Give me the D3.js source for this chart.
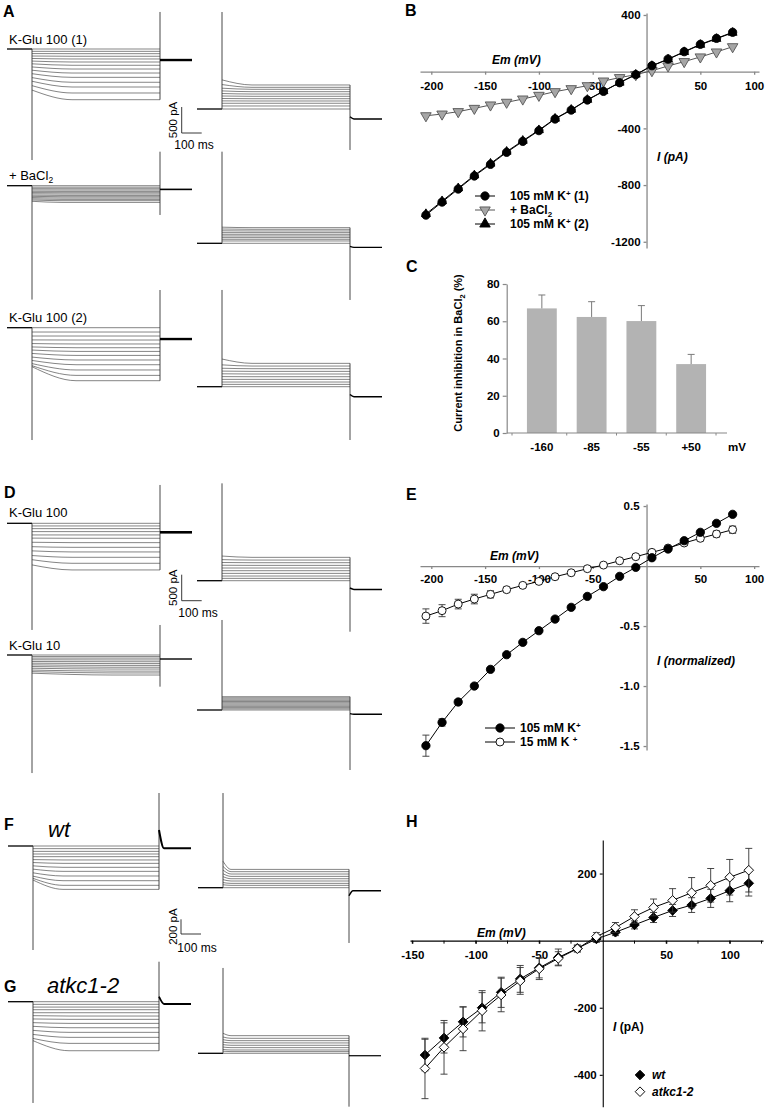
<!DOCTYPE html>
<html><head><meta charset="utf-8">
<script src="https://cdn.jsdelivr.net/npm/d3@7"></script>
<style>
body{margin:0;background:#fff;}
svg{display:block;font-family:"Liberation Sans",Arial,sans-serif;}
</style></head><body>
<svg id="fig" width="767" height="1110"></svg>
<script>
// ---------------- DATA ----------------
// Panel B: I-V (pA) vs Em (mV)
const emB = [-205,-190,-175,-160,-145,-130,-115,-100,-85,-70,-55,-40,-25,-10,5,20,35,50,65,80];
const iK1 = [-1012,-920,-828,-736,-654,-569,-492,-416,-334,-271,-200,-139,-78,-21,42,89,141,193,235,278];
const iBa = [-311,-299,-282,-259,-235,-216,-193,-167,-141,-120,-99,-66,-42,-21,7,40,71,104,139,176];
const iK2 = [-1004,-913,-822,-731,-648,-564,-487,-412,-331,-268,-198,-137,-77,-20,41,87,139,190,232,275];
const bXTicks = [-200,-150,-100,-50,50,100];
const bYTicks = [400,-400,-800,-1200];

// Panel C: inhibition (%)
const inhCats = ["-160","-85","-55","+50"];
const inhMean = [66.9,62.3,60.1,37.0];
const inhSem = [7.2,8.2,8.3,5.2];
const cYTicks = [0,20,40,60,80];

// Panel E: normalized I-V
const emE = [-205,-190,-175,-160,-145,-130,-115,-100,-85,-70,-55,-40,-25,-10,5,20,35,50,65,80];
const iE105 = [-1.497,-1.303,-1.133,-1.0,-0.861,-0.739,-0.636,-0.539,-0.442,-0.344,-0.253,-0.172,-0.086,-0.011,0.069,0.142,0.211,0.281,0.356,0.431];
const eE105 = [0.088,0.03,0.02,0.015,0.01,0.01,0.01,0.01,0.01,0.01,0.01,0.01,0.01,0.01,0.01,0.01,0.01,0.01,0.01,0.01];
const iE15 = [-0.417,-0.372,-0.317,-0.275,-0.236,-0.197,-0.161,-0.128,-0.089,-0.056,-0.022,0.008,0.044,0.078,0.114,0.150,0.192,0.231,0.267,0.303];
const eE15 = [0.06,0.05,0.04,0.04,0.03,0.02,0.015,0.01,0.01,0.01,0.01,0.01,0.01,0.01,0.01,0.01,0.015,0.02,0.025,0.03];
const eXTicks = [-200,-150,-100,-50,50,100];
const eYTicks = [0.5,-0.5,-1.0,-1.5];

// Panel H: wt vs atkc1-2
const emH = [-140,-125,-110,-95,-80,-65,-50,-35,-20,-5,10,25,40,55,70,85,100,115];
const iWt = [-341,-290,-242,-200,-154,-114,-81,-50,-23,5,25,47,69,90,106,126,149,171];
const eWt = [47,45,45,45,45,40,30,25,10,10,10,12,15,18,22,27,33,38];
const iKo = [-381,-318,-263,-209,-162,-120,-84,-53,-24,12,39,72,99,120,143,165,189,210];
const eKo = [90,80,65,60,50,40,32,20,10,12,15,20,25,35,45,50,53,65];
const hXTicks = [-150,-100,-50,50,100];
const hYTicks = [200,-200,-400];

// Current traces (pA): steady-state and initial levels per family
const a1L_ss = [0,-45,-90,-140,-192,-250,-313,-385,-462,-545,-640,-731,-846,-975];
const a1L_in = [0,-45,-88,-135,-182,-232,-285,-345,-408,-475,-550,-620,-705,-790];
const a1R_ss = [0,58,110,154,198,244,288,333,379,417,462];
const a1R_in = [0,58,110,156,202,250,298,348,400,470,560];
const a2L_ss = [0,-29,-58,-83,-110,-135,-160,-187,-212,-237,-263,-288,-321];
const a2L_in = [0,-29,-57,-82,-108,-132,-156,-182,-205,-228,-252,-275,-300];
const a2R_ss = [0,45,77,109,141,173,205,237,269,301];
const a2R_in = [0,45,77,109,141,173,205,240,275,310];
const a3L_ss = [0,-83,-160,-237,-313,-385,-456,-533,-621,-712,-813,-917,-1019];
const a3L_in = [0,-83,-160,-235,-305,-370,-430,-495,-565,-630,-690,-730,-750];
const a3R_ss = [0,45,90,141,192,244,295,346,397,449];
const a3R_in = [0,45,90,141,194,248,300,355,420,532];
const d1L_ss = [0,-51,-103,-160,-224,-288,-372,-462,-551,-654,-769,-897];
const d1L_in = [0,-51,-103,-160,-224,-285,-365,-450,-530,-620,-700,-800];
const d1R_ss = [0,45,90,141,192,244,295,346,397,449];
const d1R_in = [0,45,90,141,192,244,297,350,405,474];
const d2L_ss = [0,-30,-60,-95,-130,-165,-200,-235,-270,-310,-345,-385];
const d2L_in = [0,-30,-60,-92,-125,-158,-190,-222,-255,-290,-320,-350];
const d2R_ss = [0,23,46,70,93,116,140,163,186,210,233,256];
const d2R_in = [0,23,46,70,93,116,140,163,186,210,233,256];
const fL_ss = [0,-36,-73,-109,-145,-190,-236,-290,-345,-408,-472,-535,-590];
const fL_in = [0,-36,-73,-109,-145,-185,-225,-270,-315,-365,-410,-440,-463];
const fR_ss = [0,32,59,91,122,154,186,218,249];
const fR_in = [0,40,70,110,150,190,240,290,360];
const gL_ss = [0,-36,-73,-109,-150,-195,-240,-295,-354,-417,-485,-567,-667];
const gL_in = [0,-36,-73,-109,-150,-190,-235,-285,-335,-390,-445,-500,-530];
const gR_ss = [0,23,45,77,109,141,172,204,240];
const gR_in = [0,28,52,85,118,152,185,222,272];

// ---------------- DRAWING ----------------
const svg = d3.select('#fig');
const FONT = '"Liberation Sans", Arial, sans-serif';

function family(o){
  const g = svg.append('g');
  const t = d3.scaleLinear().domain([-125, o.end + 160]).range([o.x0, o.x0 + 0.2*(o.end + 285)]);
  const y = d3.scaleLinear().domain([0, 1000]).range([o.y0, o.y0 - 1000*o.k]);
  const line = d3.line().x(d=>t(d[0])).y(d=>y(d[1])).curve(d3.curveMonotoneX);
  o.ss.forEach((s,i)=>{
    g.append('path').attr('d', line([[0,o.init[i]],[o.relax,s],[o.end,s]]))
      .attr('fill','none').attr('stroke','#333').attr('stroke-width',0.6);
  });
  g.append('path').attr('d', line([[-125,0],[0,0]])).attr('stroke','#000').attr('stroke-width',1.3).attr('fill','none');
  g.append('line').attr('x1',t(0)).attr('x2',t(0)).attr('y1',y(0)).attr('y2',y(o.on))
    .attr('stroke','#333').attr('stroke-width',0.9);
  g.append('line').attr('x1',t(o.end)).attr('x2',t(o.end)).attr('y1',y(o.offTop)).attr('y2',y(o.offBot))
    .attr('stroke','#333').attr('stroke-width',0.9);
  g.append('path').attr('d', line([[o.end,o.tail0],[o.end+o.tailRelax,o.tail],[o.end+160,o.tail]]))
    .attr('fill','none').attr('stroke','#000').attr('stroke-width',o.tw);
  return {t,y,g};
}

const fams = [
  {x0:7,  y0:49,    k:0.052, end:640, ss:a1L_ss, init:a1L_in, relax:200, on:-2135, offTop:712, offBot:-975, tail0:-212, tail:-212, tailRelax:10, tw:2.4},
  {x0:197,y0:109,   k:0.052, end:640, ss:a1R_ss, init:a1R_in, relax:150, on:1865, offTop:462, offBot:-788, tail0:-150, tail:-192, tailRelax:20, tw:1.4},
  {x0:7,  y0:185.7, k:0.052, end:640, ss:a2L_ss, init:a2L_in, relax:150, on:-2190, offTop:654, offBot:-563, tail0:-71, tail:-71, tailRelax:10, tw:1.6},
  {x0:197,y0:243.3, k:0.052, end:640, ss:a2R_ss, init:a2R_in, relax:150, on:1762, offTop:301, offBot:-1090, tail0:-60, tail:-77, tailRelax:20, tw:1.2},
  {x0:7,  y0:327.7, k:0.052, end:640, ss:a3L_ss, init:a3L_in, relax:220, on:-2160, offTop:725, offBot:-1019, tail0:-218, tail:-218, tailRelax:10, tw:2.4},
  {x0:197,y0:386.7, k:0.052, end:640, ss:a3R_ss, init:a3R_in, relax:150, on:1860, offTop:449, offBot:-1025, tail0:-150, tail:-192, tailRelax:20, tw:1.5},
  {x0:7,  y0:523.3, k:0.052, end:640, ss:d1L_ss, init:d1L_in, relax:200, on:-2051, offTop:737, offBot:-897, tail0:-173, tail:-173, tailRelax:10, tw:2.6},
  {x0:197,y0:580.7, k:0.052, end:640, ss:d1R_ss, init:d1R_in, relax:150, on:1872, offTop:449, offBot:-981, tail0:-140, tail:-167, tailRelax:20, tw:1.5},
  {x0:7,  y0:655,   k:0.052, end:640, ss:d2L_ss, init:d2L_in, relax:400, on:-2270, offTop:577, offBot:-609, tail0:-77, tail:-77, tailRelax:10, tw:1.4},
  {x0:197,y0:710,   k:0.052, end:640, ss:d2R_ss, init:d2R_in, relax:150, on:1731, offTop:256, offBot:-1154, tail0:-70, tail:-83, tailRelax:20, tw:1.4},
  {x0:8,  y0:846,   k:0.0735,end:630, ss:fL_ss,  init:fL_in,  relax:150, on:-1415, offTop:721, offBot:-590, tail0:218, tail:-31, tailRelax:25, tw:2.0},
  {x0:198,y0:887.7, k:0.0735,end:630, ss:fR_ss,  init:fR_in,  relax:40,  on:1288, offTop:249, offBot:-752, tail0:-110, tail:-41, tailRelax:20, tw:1.4},
  {x0:8,  y0:1001.7,k:0.0735,end:630, ss:gL_ss,  init:gL_in,  relax:180, on:-1378, offTop:544, offBot:-667, tail0:68, tail:-31, tailRelax:25, tw:1.8},
  {x0:198,y0:1053.3,k:0.0735,end:630, ss:gR_ss,  init:gR_in,  relax:40,  on:1161, offTop:240, offBot:-726, tail0:-33, tail:-33, tailRelax:20, tw:1.2}
];
const famScales = fams.map(family);

function scaleBar(fs, x, yb, pA, lab1, lab2, lx2, ly2){
  const h = fs.y(0) - fs.y(pA);
  const w = fs.t(100) - fs.t(0);
  svg.append('path').attr('d',`M${x},${yb-h}V${yb}H${x+w}`).attr('fill','none').attr('stroke','#222').attr('stroke-width',0.9);
  svg.append('text').attr('transform',`translate(${x-4.5},${yb-h/2}) rotate(-90)`).attr('text-anchor','middle')
    .attr('font-size',11.5).text(lab1);
  svg.append('text').attr('x',lx2).attr('y',ly2).attr('text-anchor','middle').attr('font-size',12).text(lab2);
}
scaleBar(famScales[0], 181.7, 133, 500, '500 pA', '100 ms', 194, 149);
scaleBar(famScales[6], 181.7, 600.7, 500, '500 pA', '100 ms', 198, 617);
scaleBar(famScales[10], 181, 934, 200, '200 pA', '100 ms', 197, 951.5);

[["K-Glu 100 (1)",9,44],["K-Glu 100 (2)",9,322],["K-Glu 100",9,517],["K-Glu 10",9,650]].forEach(d=>{
  svg.append('text').attr('x',d[1]).attr('y',d[2]).attr('font-size',13).text(d[0]);
});
{
  const tb = svg.append('text').attr('x',9).attr('y',180).attr('font-size',13);
  tb.append('tspan').text('+ BaCl');
  tb.append('tspan').attr('font-size',8.5).attr('dy',3).text('2');
}
svg.append('text').attr('x',48).attr('y',836.5).attr('font-size',22).attr('font-style','italic').text('wt');
svg.append('text').attr('x',47).attr('y',993).attr('font-size',22).attr('font-style','italic').text('atkc1-2');

[["A",3,17],["B",405,16],["C",406,272],["D",4,498],["E",406,500],["F",4,830],["G",4,992],["H",406,827]].forEach(d=>{
  svg.append('text').attr('x',d[1]).attr('y',d[2]).attr('font-size',16).attr('font-weight','bold').text(d[0]);
});

function crossAxes(x, y, xt, yt, fmt, opts){
  const g = svg.append('g');
  const ax = g.append('g').attr('transform',`translate(0,${y(0)})`)
    .call(d3.axisBottom(x).tickValues(xt).tickSize(3).tickSizeOuter(0).tickPadding(opts.xPad).tickFormat(d=>String(d)));
  const ay = g.append('g').attr('transform',`translate(${x(0)},0)`)
    .call(d3.axisLeft(y).tickValues(yt).tickSize(3).tickSizeOuter(0).tickPadding(opts.yPad).tickFormat(fmt));
  [ax,ay].forEach(a=>{
    a.attr('font-family',FONT).attr('font-size',11.5).attr('font-weight','bold');
    a.selectAll('path').attr('stroke',opts.col).attr('stroke-width',opts.w);
    a.selectAll('line').attr('stroke',opts.col).attr('stroke-width',opts.w);
    a.selectAll('text').attr('fill','#000');
  });
  return g;
}
function plotSeries(x, y, xs, ys, o){
  const g = svg.append('g');
  const line = d3.line().x((d,i)=>x(xs[i])).y(d=>y(d));
  g.append('path').attr('d',line(ys)).attr('fill','none').attr('stroke',o.lc).attr('stroke-width',1);
  if (o.err){
    ys.forEach((v,i)=>{
      const e = o.err[i]; const cx = x(xs[i]);
      g.append('path').attr('d',`M${cx},${y(v-e)}V${y(v+e)}M${cx-3.5},${y(v-e)}H${cx+3.5}M${cx-3.5},${y(v+e)}H${cx+3.5}`)
        .attr('stroke','#333').attr('stroke-width',0.9).attr('fill','none');
    });
  }
  const p = d3.symbol().type(o.type).size(o.size)();
  ys.forEach((v,i)=>{
    g.append('path').attr('d',p).attr('transform',`translate(${x(xs[i])},${y(v)}) rotate(${o.rot||0})`)
      .attr('fill',o.fill).attr('stroke',o.stroke).attr('stroke-width',0.9);
  });
  return g;
}
function legendItem(x, y, half, o, textParts, tx, italic, lsize){
  if (half>0) svg.append('line').attr('x1',x-half).attr('x2',x+half).attr('y1',y).attr('y2',y).attr('stroke',o.lc).attr('stroke-width',1);
  svg.append('path').attr('d',d3.symbol().type(o.type).size(lsize||o.size)()).attr('transform',`translate(${x},${y}) rotate(${o.rot||0})`)
    .attr('fill',o.fill).attr('stroke',o.stroke).attr('stroke-width',0.9);
  const t = svg.append('text').attr('x',tx).attr('y',y+4).attr('font-size',12).attr('font-weight','bold');
  if (italic) t.attr('font-style','italic');
  textParts.forEach(p=>{
    const s = t.append('tspan').text(p[0]);
    if (p[1]) s.attr('font-size',p[1]);
    if (p[2]) s.attr('dy',p[2]);
  });
}
function axisTitle(x, y, parts){
  const t = svg.append('text').attr('x',x).attr('y',y).attr('font-size',12).attr('font-weight','bold');
  parts.forEach(p=>{ const s=t.append('tspan').text(p[0]); if(p[1]) s.attr('font-style','italic'); });
}

// ---- Panel B ----
const xB = d3.scaleLinear().domain([-210.5,104.5]).range([420,759]);
const yB = d3.scaleLinear().domain([414,-1244]).range([13,248]);
crossAxes(xB, yB, bXTicks, bYTicks, d=>String(d), {xPad:7, yPad:3, col:'#888', w:1.3});
const stK1 = {type:d3.symbolCircle, size:54, fill:'#000', stroke:'#000', lc:'#000'};
const stBa = {type:d3.symbolTriangle, size:48, fill:'#a6a6a6', stroke:'#555', lc:'#555', rot:180};
const stK2 = {type:d3.symbolTriangle, size:34, fill:'#000', stroke:'#000', lc:'#000'};
plotSeries(xB, yB, emB, iK2, stK2);
plotSeries(xB, yB, emB, iBa, stBa);
plotSeries(xB, yB, emB, iK1, stK1);
axisTitle(492, 64, [["Em (mV)",true]]);
axisTitle(657, 161, [["I (pA)",true]]);
legendItem(485, 196, 10, stK1, [["105 mM K"],["+",8,-4],[" (1)",null,4]], 510);
legendItem(485, 210, 10, stBa, [["+ BaCl"],["2",8,3],["",null,-3]], 510);
legendItem(485, 224, 10, stK2, [["105 mM K"],["+",8,-4],[" (2)",null,4]], 510, false, 48);

// ---- Panel C ----
const yC = d3.scaleLinear().domain([0,80]).range([433,284]);
const xC = d3.scaleBand().domain(inhCats).range([512,721]).paddingInner(0.4).paddingOuter(0.3);
{
  const g = svg.append('g');
  g.selectAll('rect').data(inhCats).enter().append('rect')
    .attr('x',d=>xC(d)).attr('width',xC.bandwidth())
    .attr('y',(d,i)=>yC(inhMean[i])).attr('height',(d,i)=>yC(0)-yC(inhMean[i]))
    .attr('fill','#b3b3b3');
  inhCats.forEach((d,i)=>{
    const cx = xC(d)+xC.bandwidth()/2;
    g.append('path').attr('d',`M${cx},${yC(inhMean[i])}V${yC(inhMean[i]+inhSem[i])}M${cx-3.5},${yC(inhMean[i]+inhSem[i])}H${cx+3.5}`)
      .attr('stroke','#7a7a7a').attr('stroke-width',1).attr('fill','none');
  });
  const ay = g.append('g').attr('transform','translate(506.7,0)')
    .call(d3.axisLeft(yC).tickValues(cYTicks).tickSize(4).tickSizeOuter(0).tickPadding(3));
  ay.attr('font-family',FONT).attr('font-size',11.5).attr('font-weight','bold');
  ay.selectAll('path,line').attr('stroke','#888').attr('stroke-width',1.2);
  ay.selectAll('text').attr('fill','#000');
  g.append('line').attr('x1',506.7).attr('x2',727).attr('y1',yC(0)).attr('y2',yC(0)).attr('stroke','#888').attr('stroke-width',1.2);
  const bounds = [xC.range()[0]].concat(inhCats.map(d=>xC(d)+xC.bandwidth()+xC.step()*0.2));
  bounds.forEach(b=>g.append('line').attr('x1',b).attr('x2',b).attr('y1',yC(0)).attr('y2',yC(0)+2.5).attr('stroke','#888'));
  inhCats.forEach(d=>{
    g.append('text').attr('x',xC(d)+xC.bandwidth()/2).attr('y',451).attr('text-anchor','middle')
      .attr('font-size',11.5).attr('font-weight','bold').text(d);
  });
  g.append('text').attr('x',728).attr('y',451).attr('font-size',11.5).attr('font-weight','bold').text('mV');
  const tt = g.append('text').attr('transform','translate(462,353) rotate(-90)').attr('text-anchor','middle')
    .attr('font-size',11).attr('font-weight','bold');
  tt.append('tspan').text('Current inhibition in BaCl');
  tt.append('tspan').attr('font-size',7.5).attr('dy',3).text('2');
  tt.append('tspan').attr('dy',-3).text(' (%)');
}

// ---- Panel E ----
const xE = d3.scaleLinear().domain([-210.5,104.5]).range([420,759]);
const yE = d3.scaleLinear().domain([0.517,-1.533]).range([504,750]);
crossAxes(xE, yE, eXTicks, eYTicks, d=>d.toFixed(1), {xPad:6, yPad:4, col:'#888', w:1.3});
const st105 = {type:d3.symbolCircle, size:54, fill:'#000', stroke:'#000', lc:'#000', err:eE105};
const st15 = {type:d3.symbolCircle, size:50, fill:'#fff', stroke:'#000', lc:'#000', err:eE15};
plotSeries(xE, yE, emE, iE15, st15);
plotSeries(xE, yE, emE, iE105, st105);
axisTitle(490, 560, [["Em (mV)",true]]);
axisTitle(657, 665, [["I (normalized)",true]]);
legendItem(500, 728, 15, st105, [["105 mM K"],["+",8,-4]], 520);
legendItem(500, 742, 15, st15, [["15 mM K "],["+",8,-4]], 520);

// ---- Panel H ----
const xH = d3.scaleLinear().domain([-151.8,126.2]).range([410,763]);
const yH = d3.scaleLinear().domain([300,-495]).range([840,1106.7]);
{
  const g = crossAxes(xH, yH, hXTicks, hYTicks, d=>String(d), {xPad:7, yPad:3, col:'#000', w:1.1});
  d3.range(-150,126,25).filter(v=>v!==0).forEach(v=>{
    g.append('line').attr('x1',xH(v)).attr('x2',xH(v)).attr('y1',yH(0)).attr('y2',yH(0)+3).attr('stroke','#000').attr('stroke-width',1);
  });
}
const stWt = {type:d3.symbolSquare, size:46, fill:'#000', stroke:'#000', lc:'#000', rot:45, err:eWt};
const stKo = {type:d3.symbolSquare, size:46, fill:'#fff', stroke:'#000', lc:'#000', rot:45, err:eKo};
plotSeries(xH, yH, emH, iWt, stWt);
plotSeries(xH, yH, emH, iKo, stKo);
axisTitle(477, 937, [["Em (mV)",true]]);
axisTitle(613, 1031, [["I",true],[" (pA)",false]]);
legendItem(640, 1075, 0, stWt, [["wt"]], 652, true);
legendItem(640, 1091.7, 0, stKo, [["atkc1-2"]], 652, true);
</script></body></html>
